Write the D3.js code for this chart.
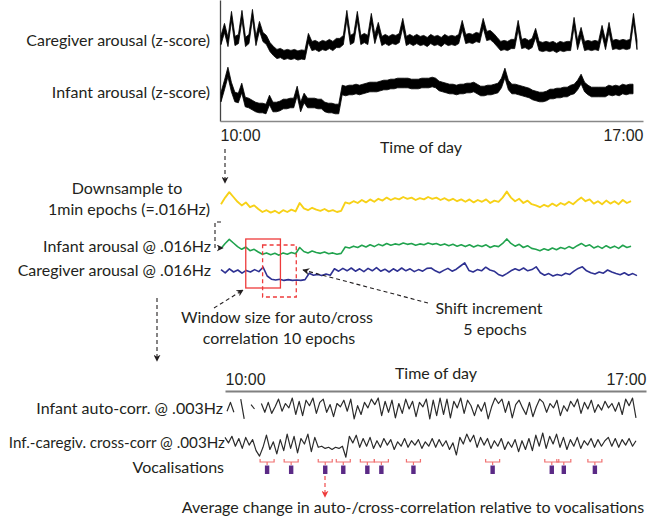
<!DOCTYPE html>
<html>
<head>
<meta charset="utf-8">
<script src="https://cdn.jsdelivr.net/npm/d3@7"></script>
<style>
  body { margin: 0; background: #fff; }
  svg { font-family: Lato, "Open Sans", sans-serif; }
  .lbl { font-size: 16px; fill: #231f20; }
</style>
</head>
<body>
<div id="vis"></div>
<script>
const frame_width = 650;
const frame_height = 519;

// raw arousal traces (local level, z-score) sampled evenly between 10:00 and 17:00
const caregiver_z = [0.2,1.4,0.0,2.6,0.1,0.3,2.7,0.0,0.3,2.8,0.1,1.6,0.5,0.2,-0.5,-0.9,-1.2,-1.1,-1.3,-1.2,
  -1.3,-1.2,-1.35,-1.25,-1.3,0.4,-0.4,-0.3,-0.5,-0.3,-0.4,-0.2,-0.4,-0.1,-0.1,0.2,2.7,0.2,0.4,2.6,
  0.2,0.4,0.2,2.4,0.3,1.5,0.1,0.3,0.1,0.3,0.2,0.4,1.9,0.1,0.3,0.1,0.3,0.1,0.2,0.0,
  0.3,0.1,0.2,0.0,0.3,0.1,0.2,0.1,0.3,1.7,0.3,0.4,0.3,0.5,0.4,1.9,0.6,0.7,0.4,0.0,
  -0.4,-0.3,-0.4,-0.2,-0.2,1.7,-0.2,-0.1,-0.3,-0.1,0.9,-0.4,-0.5,-0.4,-0.5,-0.4,-0.6,-0.4,-0.5,-0.4,
  -0.4,2.0,-0.3,1.0,-0.4,-0.3,-0.4,-0.3,-0.4,1.2,-0.3,1.5,-0.3,-0.2,-0.3,-0.2,-0.3,-0.2,2.4,-0.3];

const infant_z = [-0.2,1.0,2.3,0.8,-0.2,-0.3,0.7,-0.7,-0.8,-1.0,-1.2,-1.3,-1.3,-1.4,-0.5,-1.2,-1.2,-1.1,-0.9,-0.9,
  -0.8,-0.8,0.4,-1.2,-0.3,-0.8,-0.8,-0.8,-0.9,-0.9,-1.2,-1.3,-1.3,-1.4,-1.4,0.5,0.4,0.5,0.5,0.6,
  0.5,0.6,0.7,0.8,0.8,0.8,0.9,1.0,1.0,1.1,1.1,1.2,1.2,1.2,1.2,1.1,1.1,1.1,1.2,1.2,
  1.2,1.3,1.2,0.9,0.8,0.7,0.6,0.6,0.5,0.6,0.6,0.7,0.7,0.8,0.6,0.4,0.4,0.5,0.5,0.6,
  0.7,1.2,2.2,1.0,0.6,0.6,0.5,0.4,0.3,0.2,0.0,-0.1,-0.2,-0.2,-0.1,0.1,0.1,0.2,0.2,0.3,
  0.3,0.5,0.6,1.0,1.6,0.8,0.5,0.3,0.3,0.3,0.3,0.3,0.5,0.4,0.5,0.4,0.6,0.5,0.6,0.6];

// 1-min epoch series (downsampled)
const infant_epochs = [-0.2,0.9,1.8,1.0,0.2,-0.4,0.1,-0.7,-0.4,-1.0,-1.5,-1.2,-1.6,-1.3,-1.7,-1.2,-1.5,-1.1,-1.4,0.0,
  -0.9,-1.2,-0.8,-1.1,-1.3,-1.0,-1.4,-1.2,-1.5,-1.3,0.1,-0.1,0.3,0.0,0.5,0.1,0.6,0.2,0.7,0.4,
  0.9,0.5,0.8,0.6,1.0,0.7,0.9,0.5,0.8,0.6,1.0,0.7,0.9,0.5,0.8,0.4,0.7,0.3,0.6,0.2,
  0.6,0.1,0.5,0.2,0.6,0.0,0.4,0.2,0.9,1.9,0.9,0.3,0.7,0.0,0.4,-0.2,-0.4,-0.7,-0.3,-0.6,
  -0.1,-0.5,0.0,-0.3,0.2,-0.2,0.4,0.9,0.3,0.6,-0.1,0.3,-0.2,0.4,-0.1,0.3,-0.2,0.5,0.0,0.3];

const caregiver_epochs = [0.6,-0.2,0.8,0.0,0.5,-0.3,0.4,0.0,0.6,0.1,1.2,-1.0,-1.8,-2.0,-1.8,-2.1,-1.9,-2.1,-2.0,-2.1,
  -1.9,-0.3,-0.8,-0.6,-0.9,-0.5,-0.8,0.8,0.2,0.9,0.3,1.0,0.2,0.8,0.1,0.9,0.3,1.1,0.2,0.7,
  0.0,0.8,0.2,1.0,0.3,0.8,0.1,0.6,0.2,0.9,1.0,0.3,-0.2,0.4,0.9,0.2,0.7,1.5,2.3,0.4,
  0.0,0.6,0.3,1.2,0.5,0.2,-0.6,-1.0,-0.4,0.3,0.8,0.4,1.0,0.3,0.6,1.3,-0.2,-0.8,-0.4,-1.0,
  -0.6,-0.9,-0.3,-0.6,0.2,0.9,1.3,0.3,-0.2,-0.5,0.0,-0.3,0.5,0.0,-0.4,-0.7,-0.2,-0.8,-0.4,-0.9];

// windowed correlations @ .003Hz (null = not computable)
const infant_autocorr = [-0.2,0.6,-0.3,null,0.9,-0.9,null,0.4,0.0,null,0.5,-0.3,0.6,-0.4,0.2,0.9,-0.2,0.5,0.1,1.0,
  -0.5,0.7,-0.6,0.8,0.3,1.0,-0.4,0.6,0.9,-0.3,0.4,-0.7,0.5,0.2,0.8,-0.2,0.9,-0.9,0.3,-0.5,
  0.6,0.1,0.9,0.4,1.0,-0.6,0.7,-0.3,0.8,-0.8,0.5,-0.4,0.9,0.0,0.7,-0.7,0.6,0.2,0.9,-0.9,
  0.8,-0.6,1.0,-0.5,0.9,-0.8,0.7,0.1,1.0,-0.4,0.8,0.3,-0.6,0.4,-0.2,0.6,-0.9,0.2,1.0,0.5,
  0.9,-0.3,0.7,-0.8,0.4,0.8,0.1,-0.5,0.6,-0.7,0.2,0.9,0.6,-0.3,0.5,0.1,0.8,-0.6,0.3,-0.2,
  0.7,0.2,0.9,-0.4,0.6,0.0,0.8,-0.3,0.4,-0.1,0.7,0.1,0.5,-0.2,0.6,-0.5,0.9,0.3,1.0,-0.8];

const cross_corr = [0.6,0.1,0.7,-0.2,0.5,-0.4,0.6,-0.1,0.4,-0.6,-1.1,-0.3,0.8,-0.5,0.2,-0.9,0.4,-0.6,0.9,-0.4,
  0.7,-0.8,0.5,0.0,0.9,-0.7,0.6,-0.3,-0.2,-0.4,-0.3,-0.5,-0.3,-0.4,-0.2,-1.2,0.7,0.1,0.8,-0.3,
  0.5,-0.2,0.6,-0.4,0.3,-0.3,0.5,-0.1,0.4,-0.5,0.2,-0.2,0.5,-0.3,0.3,-0.1,0.4,-0.4,0.2,-0.2,
  0.5,-0.3,0.4,-0.2,0.3,-0.5,0.1,-1.0,0.6,0.0,0.9,0.2,0.8,-0.3,0.6,-0.1,0.5,-0.4,0.3,-0.2,
  0.5,-0.5,0.2,-0.3,0.4,-0.7,0.3,-0.5,0.5,-0.6,0.8,-0.2,1.0,-0.4,0.7,0.0,0.9,-0.3,0.6,-0.5,
  0.4,-0.2,0.6,-0.4,0.3,-0.1,0.5,-0.3,0.4,-0.2,0.3,0.6,-0.2,0.5,-0.3,0.4,-0.1,0.5,-0.2,0.3];

const vocalisation_times = ["10:42","11:06","11:40","11:58","12:22","12:36","13:08","14:27","15:26","15:38","16:09"];
const window_starts = ["10:25","10:42"];
const window_ends = ["11:00","11:16"];
const axis_ticks = ["10:00","17:00"];

const parse = d3.timeParse("%H:%M");
const t0 = parse(axis_ticks[0]);
const t1 = parse(axis_ticks[1]);
const sample_times = (n, a, b) => d3.range(n).map(i => new Date(+a + i * (b - a) / (n - 1)));

const svg = d3.select("#vis").append("svg")
    .attr("width", frame_width)
    .attr("height", frame_height);

const defs = svg.append("defs");
function marker(id, color) {
  defs.append("marker")
      .attr("id", id)
      .attr("viewBox", "0 0 10 10")
      .attr("refX", 9).attr("refY", 5)
      .attr("markerWidth", 7).attr("markerHeight", 7)
      .attr("markerUnits", "userSpaceOnUse")
      .attr("orient", "auto")
    .append("path")
      .attr("d", "M0,0 L10,5 L0,10 L3,5 Z")
      .attr("fill", color);
}
marker("arr", "#231f20");
marker("arrRed", "#ee3b3b");

// ---------- top panel: raw traces ----------
const x_top = d3.scaleTime().domain([t0, t1]).range([221, 637]);
const x_top_axis = d3.scaleTime().domain([t0, t1]).range([220, 643]);
const y_care = d3.scaleLinear().domain([-1.5, 3]).range([57, 12]);
const y_inf = d3.scaleLinear().domain([-2, 2.5]).range([115, 70]);

svg.append("g")
    .attr("transform", "translate(220,0)")
    .call(d3.axisLeft(d3.scaleLinear().range([121, 0])).ticks(0).tickSize(0))
    .select(".domain").attr("stroke", "#444").attr("stroke-width", 1.3);

const top_axis = svg.append("g")
    .attr("transform", "translate(0,121)")
    .call(d3.axisBottom(x_top_axis)
        .tickValues([t0, t1])
        .tickSize(0)
        .tickPadding(9)
        .tickFormat(d3.timeFormat("%H:%M")));
top_axis.select(".domain").attr("stroke", "#888").attr("stroke-width", 1.5);
top_axis.selectAll("text")
    .attr("class", "lbl")
    .attr("font-family", null).attr("font-size", null)
    .attr("text-anchor", (d, i) => i === 0 ? "start" : "end");

function trace(values, xs, ys, times, color, width) {
  svg.append("path")
      .datum(values.map((v, i) => ({t: times[i], v: v})))
      .attr("fill", "none")
      .attr("stroke", color)
      .attr("stroke-width", width)
      .attr("stroke-linejoin", "round")
      .attr("d", d3.line()
          .defined(d => d.v !== null)
          .x(d => xs(d.t))
          .y(d => ys(d.v)));
}

// dense raw signal: drawn as a noise band around the sampled level
function band(values, xs, ys, times, half) {
  svg.append("path")
      .datum(values.map((v, i) => ({t: times[i], v: v})))
      .attr("fill", "#000")
      .attr("stroke", "#000")
      .attr("stroke-width", 0.8)
      .attr("d", d3.area()
          .x(d => xs(d.t))
          .y0(d => ys(d.v) + half)
          .y1(d => ys(d.v) - half));
}

const care_times = sample_times(caregiver_z.length, t0, t1);
const inf_times = sample_times(infant_z.length, t0, parse("16:56"));
band(caregiver_z, x_top, y_care, care_times, 4.6);
band(infant_z, x_top, y_inf, inf_times, 4.8);

// ---------- middle panel: 1-min epochs ----------
const y_yel = d3.scaleLinear().domain([-2, 2]).range([215, 191]);
const y_grn = d3.scaleLinear().domain([-2, 2]).range([256.5, 238.5]);
const y_blu = d3.scaleLinear().domain([-2.5, 2.5]).range([282, 262]);

trace(infant_epochs, x_top, y_yel, sample_times(infant_epochs.length, parse("10:00"), parse("16:54")), "#f7d117", 1.9);
trace(infant_epochs, x_top, y_grn, sample_times(infant_epochs.length, parse("10:00"), parse("16:54")), "#21a34e", 1.6);
trace(caregiver_epochs, x_top, y_blu, sample_times(caregiver_epochs.length, parse("10:00"), t1), "#2e3192", 1.6);

// sliding windows
svg.selectAll(".win")
    .data(window_starts)
    .enter()
    .append("rect")
      .attr("x", d => x_top(parse(d)))
      .attr("width", (d, i) => x_top(parse(window_ends[i])) - x_top(parse(d)))
      .attr("y", (d, i) => i === 0 ? 239 : 245)
      .attr("height", (d, i) => i === 0 ? 49 : 52)
      .attr("fill", "none")
      .attr("stroke", "#ee3b3b")
      .attr("stroke-width", 1.3)
      .attr("stroke-dasharray", (d, i) => i === 0 ? null : "4,3");

// ---------- bottom panel: correlations ----------
const x_bot = d3.scaleTime().domain([t0, t1]).range([225, 646]);
const y_auto = d3.scaleLinear().domain([-1, 1]).range([420, 398]);
const y_cross = d3.scaleLinear().domain([-1.2, 1]).range([457.2, 433]);

const bot_axis = svg.append("g")
    .attr("transform", "translate(0,391)")
    .call(d3.axisTop(x_bot)
        .tickValues([t0, t1])
        .tickSize(0)
        .tickPadding(6)
        .tickFormat(d3.timeFormat("%H:%M")));
bot_axis.select(".domain").attr("stroke", "#808080").attr("stroke-width", 2);
bot_axis.selectAll("text")
    .attr("class", "lbl")
    .attr("font-family", null).attr("font-size", null)
    .attr("text-anchor", (d, i) => i === 0 ? "start" : "end");

trace(infant_autocorr, x_bot, y_auto, sample_times(infant_autocorr.length, parse("10:02"), parse("16:50")), "#2b2b2b", 1.2);
trace(cross_corr, x_bot, y_cross, sample_times(cross_corr.length, parse("10:00"), parse("16:50")), "#2b2b2b", 1.2);

// vocalisations
const voc = svg.selectAll(".voc")
    .data(vocalisation_times)
    .enter()
    .append("g")
      .attr("transform", d => "translate(" + x_bot(parse(d)) + ",0)");
voc.append("path")
    .attr("d", "M-7,459 V462 H7 V459 M0,462 V465")
    .attr("fill", "none")
    .attr("stroke", "#f07070")
    .attr("stroke-width", 1.2);
voc.append("rect")
    .attr("x", -2.2).attr("y", 465.5)
    .attr("width", 4.4).attr("height", 8.5)
    .attr("fill", "#5b2a86");

// ---------- labels ----------
const labels = [
  {t: "Caregiver arousal (z-score)", x: 210, y: 40, a: "end", s: 16},
  {t: "Infant arousal (z-score)", x: 210, y: 92, a: "end", s: 16},
  {t: "Time of day", x: 421, y: 147, a: "middle", s: 16},
  {t: "Downsample to", x: 127, y: 188, a: "middle", s: 16},
  {t: "1min epochs (=.016Hz)", x: 129, y: 209, a: "middle", s: 16},
  {t: "Infant arousal @ .016Hz", x: 211, y: 246, a: "end", s: 16},
  {t: "Caregiver arousal @ .016Hz", x: 211, y: 270, a: "end", s: 16},
  {t: "Window size for auto/cross", x: 277, y: 317, a: "middle", s: 16},
  {t: "correlation 10 epochs", x: 279, y: 338, a: "middle", s: 16},
  {t: "Shift increment", x: 489, y: 308, a: "middle", s: 16},
  {t: "5 epochs", x: 495, y: 329, a: "middle", s: 16},
  {t: "Time of day", x: 436, y: 373, a: "middle", s: 16},
  {t: "Infant auto-corr. @ .003Hz", x: 223, y: 408, a: "end", s: 16},
  {t: "Inf.-caregiv. cross-corr @ .003Hz", x: 225, y: 443, a: "end", s: 15.2},
  {t: "Vocalisations", x: 224, y: 467, a: "end", s: 16},
  {t: "Average change in auto-/cross-correlation relative to vocalisations", x: 413, y: 507, a: "middle", s: 16}
];
svg.selectAll(".txt")
    .data(labels)
    .enter()
    .append("text")
      .attr("class", "lbl")
      .attr("x", d => d.x)
      .attr("y", d => d.y)
      .attr("dy", "0.35em")
      .attr("text-anchor", d => d.a)
      .style("font-size", d => d.s + "px")
      .text(d => d.t);

// ---------- dashed arrows ----------
const arrows = [
  {d: "M225,149 V183", c: "#231f20", m: "arr"},
  {d: "M221,222 H215 V248 H223", c: "#231f20", m: "arr"},
  {d: "M157,298 V361", c: "#231f20", m: "arr"},
  {d: "M214,308 L243,290", c: "#231f20", m: "arr"},
  {d: "M428,303 L303,270", c: "#231f20", m: "arr"},
  {d: "M325,476 V497", c: "#ee3b3b", m: "arrRed"}
];
svg.selectAll(".arrow")
    .data(arrows)
    .enter()
    .append("path")
      .attr("d", d => d.d)
      .attr("fill", "none")
      .attr("stroke", d => d.c)
      .attr("stroke-width", 1.1)
      .attr("stroke-dasharray", "4,3")
      .attr("marker-end", d => "url(#" + d.m + ")");
</script>
</body>
</html>
